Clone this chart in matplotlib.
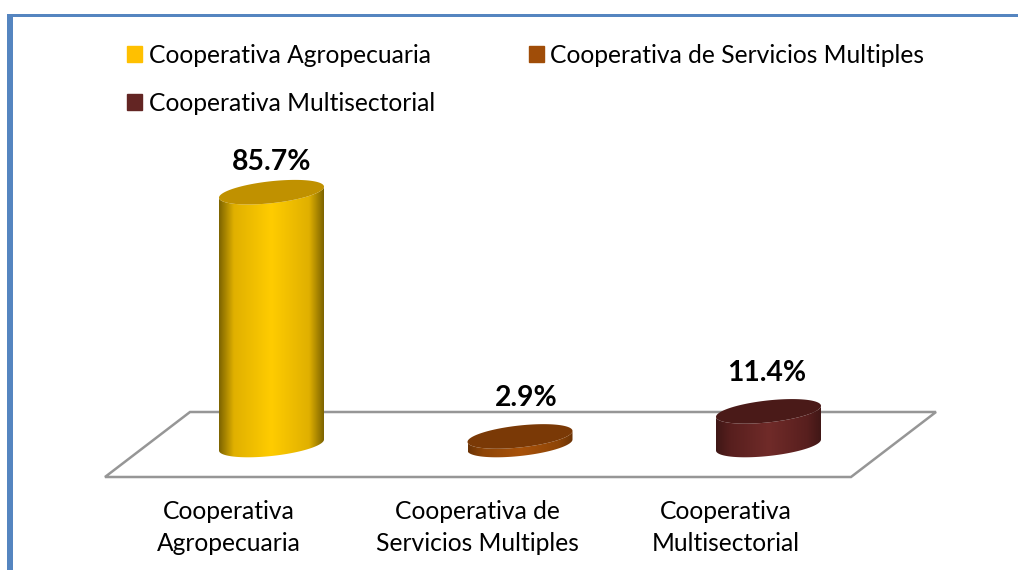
import numpy as np
import matplotlib.pyplot as plt
from matplotlib.colors import LinearSegmentedColormap
from matplotlib.patches import Patch, Polygon, Rectangle

names = ["Cooperativa Agropecuaria", "Cooperativa de Servicios Multiples", "Cooperativa Multisectorial"]
tick_labels = ["Cooperativa\nAgropecuaria", "Cooperativa de\nServicios Multiples", "Cooperativa\nMultisectorial"]
values = [85.7, 2.9, 11.4]

legend_colors = ["#FFC000", "#A04D08", "#632523"]
edge_colors = ["#7D6400", "#6B3305", "#3F1716"]
mid_colors = ["#E0B000", "#8E4507", "#581F1E"]
light_colors = ["#FFCC00", "#A8520A", "#702B29"]
top_colors = ["#C09100", "#7A3906", "#4A1A18"]

plt.rcParams["font.family"] = ["Lato", "DejaVu Sans"]

W, H = 1018, 570
PX_X = 248.5   # pixels per category
PX_Y = 2.95    # pixels per percent
X0 = 271.5     # pixel of first category
Y0 = 445       # pixel of 0 %


def dx(p):
    return (p - X0) / PX_X


def dy(p):
    return (Y0 - p) / PX_Y


def ring(cx, val, t):
    # skewed ellipse, right end sits a bit higher than the left one
    x = cx + 52.5 / PX_X * np.cos(t)
    y = val + (11 * np.sin(t) + 5.5 * np.cos(t)) / PX_Y
    return x, y


fig = plt.figure(figsize=(W / 100, H / 100), dpi=100)
ax = fig.add_axes([0, 0, 1, 1])
ax.axis("off")

# frame
ax.add_patch(Rectangle((dx(7.5), dy(570)), 5.2 / PX_X, 556 / PX_Y, color="#5585C0", lw=0))
ax.add_patch(Rectangle((dx(7.5), dy(17)), 1011 / PX_X, 3 / PX_Y, color="#5585C0", lw=0))

# floor
floor = [(dx(105), dy(477)), (dx(851), dy(477)), (dx(936), dy(412)), (dx(190), dy(412))]
ax.add_patch(Polygon(floor, closed=True, fill=False, ec="#969696", lw=1.8, zorder=1))

low = np.linspace(np.pi, 2 * np.pi, 80)
grad = np.linspace(0, 1, 256).reshape(1, -1)
for i, v in enumerate(values):
    bx, by = ring(i, 0, low)
    tx, ty = ring(i, v, low[::-1])
    body = Polygon(np.column_stack([np.r_[bx, tx], np.r_[by, ty]]), closed=True,
                   fc="none", ec="none", zorder=2)
    ax.add_patch(body)
    cmap = LinearSegmentedColormap.from_list("side", [
        (0, edge_colors[i]), (0.14, mid_colors[i]), (0.5, light_colors[i]),
        (0.86, mid_colors[i]), (1, edge_colors[i])])
    img = ax.imshow(grad, cmap=cmap, aspect="auto", zorder=2, interpolation="bilinear",
                    extent=(i - 52.5 / PX_X, i + 52.5 / PX_X, dy(480), v + 15 / PX_Y))
    img.set_clip_path(body)
    t = np.linspace(0, 2 * np.pi, 160)
    ex, ey = ring(i, v, t)
    ax.fill(ex, ey, color=top_colors[i], lw=0, zorder=3)

# value labels
label_gap = [30.5, 38, 38.5]
label_shift = [0.5, 6, -2]
for i, v in enumerate(values):
    ax.text(i + label_shift[i] / PX_X, v + label_gap[i] / PX_Y, f"{v:.1f}%", ha="center", va="center",
            fontsize=20.3, fontweight="bold", color="black", zorder=4)

# category labels
for i, lab in enumerate(tick_labels):
    ax.text(i - 43 / PX_X, dy(527.5), lab, ha="center", va="center", fontsize=17.7,
            linespacing=1.49, color="black")

handles = [Patch(color=c, label=n) for c, n in zip(legend_colors, names)]
order = [0, 2, 1]
ax.legend([handles[k] for k in order], [names[k] for k in order], ncol=2, frameon=False,
          loc="upper left", bbox_to_anchor=(127 / W, 1 - 44 / H), fontsize=17.7,
          handlelength=0.61, handleheight=0.61, handletextpad=0.28, labelspacing=1.0,
          columnspacing=3.8, borderpad=0, borderaxespad=0)

ax.set_xlim(dx(0), dx(W))
ax.set_ylim(dy(H), dy(0))

fig.savefig("out.png", dpi=100)
